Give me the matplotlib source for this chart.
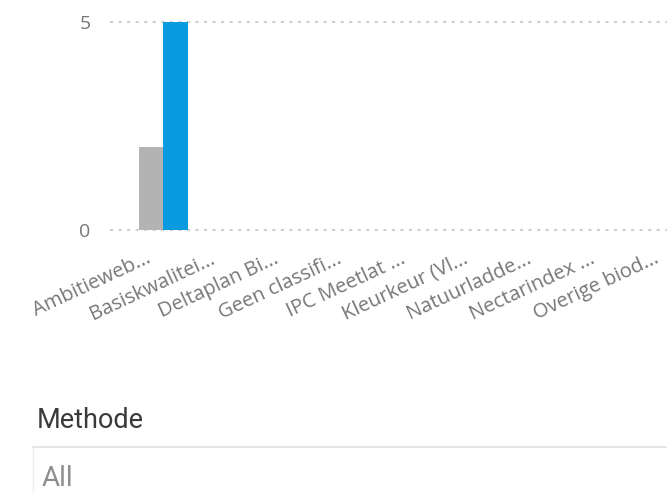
import matplotlib
matplotlib.use("Agg")
import matplotlib.pyplot as plt
from matplotlib.lines import Line2D
from matplotlib.transforms import ScaledTranslation
import numpy as np

# categorieën (afgekapte labels zoals in het rapport)
methodes = ["Ambitieweb...", "Basiskwalitei...", "Deltaplan Bi...", "Geen classifi...",
            "IPC Meetlat ...", "Kleurkeur (Vl...", "Natuurladde...", "Nectarindex ...",
            "Overige biod..."]
aantal_grijs = [2, 0, 0, 0, 0, 0, 0, 0, 0]
aantal_blauw = [5, 0, 0, 0, 0, 0, 0, 0, 0]
y_ticks = [0, 5]

fig = plt.figure(figsize=(6.67, 4.92), dpi=100)
W, H = 667, 492

# axes in pixels: left 110, bottom 230, one category = 63.4 px
x_lo, x_hi = -0.84, 8.6
px_per_cat = 63.4
y_top = 5.2
px_per_unit = 41.6
ax_w = (x_hi - x_lo) * px_per_cat
ax_h = y_top * px_per_unit
ax = fig.add_axes([110 / W, 1 - 230 / H, ax_w / W, ax_h / H])

x = np.arange(len(methodes))
bw = 0.39
ax.bar(x - bw / 2, aantal_grijs, width=bw, color="#B3B3B3", zorder=3)
ax.bar(x + bw / 2, aantal_blauw, width=bw, color="#0A9ADF", zorder=3)

ax.set_xlim(x_lo, x_hi)
ax.set_ylim(0, y_top)

for v in y_ticks:
    ax.axhline(v, color="#CFCFCF", lw=1.5, linestyle=(0, (1.5, 2.6)), zorder=1,
               clip_on=False)

for s in ax.spines.values():
    s.set_visible(False)

ax.set_yticks(y_ticks)
ax.set_yticklabels([str(v) for v in y_ticks], fontsize=14, color="#777777",
                   family="Open Sans")
ax.tick_params(axis="y", length=0, pad=14)

ax.set_xticks(x)
ax.set_xticklabels(methodes, fontsize=14.5, color="#777777", family="Open Sans",
                   rotation=25, ha="right", va="center", rotation_mode="anchor")
ax.tick_params(axis="x", length=0, pad=20)
shift = ScaledTranslation(-13 / 100, 0, fig.dpi_scale_trans)
for lab in ax.get_xticklabels():
    lab.set_transform(lab.get_transform() + shift)

# slicer onder de grafiek
fig.text(37 / W, 1 - 420 / H, "Methode", fontsize=19.5, color="#3A3A3A",
         family="Roboto", va="center", ha="left")
fig.text(42 / W, 1 - 478 / H, "All", fontsize=20, color="#8E8E8E",
         family="Roboto", va="center", ha="left")
fig.add_artist(Line2D([33 / W, 1], [1 - 447 / H, 1 - 447 / H], color="#E6E6E6",
                      lw=1.5, transform=fig.transFigure))
fig.add_artist(Line2D([33 / W, 33 / W], [1 - 447 / H, 0], color="#EEEEEE",
                      lw=1.0, transform=fig.transFigure))

fig.savefig("out.png", dpi=100)
